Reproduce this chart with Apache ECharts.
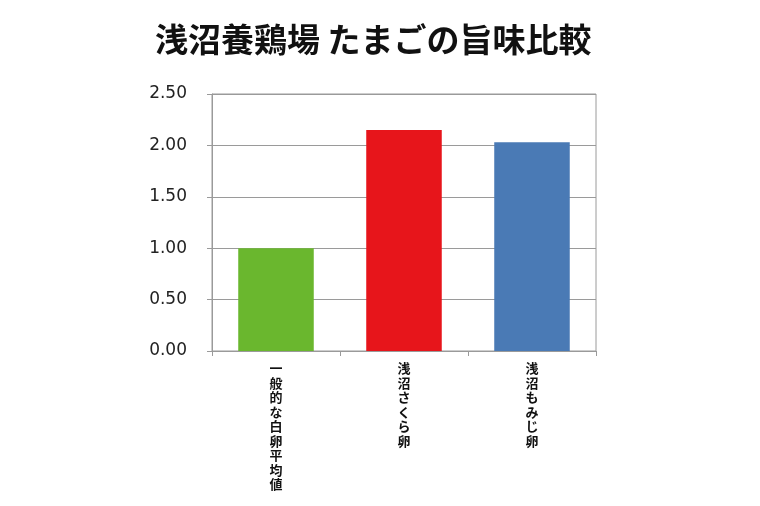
<!DOCTYPE html>
<html>
<head>
<meta charset="utf-8">
<script src="https://cdn.jsdelivr.net/npm/echarts@6/dist/echarts.min.js"></script>
<style>
html,body{margin:0;padding:0;background:#fff;}
#c{width:760px;height:506px;}
</style>
</head>
<body>
<div id="c"></div>
<script>
const titleText = '浅沼養鶏場 たまごの旨味比較';
const categories = ['一般的な白卵平均値', '浅沼さくら卵', '浅沼もみじ卵'];
const values = [1.00, 2.15, 2.03];
const barColors = ['#6AB72E', '#E7151B', '#4A7AB5'];
const yTicks = [0, 0.5, 1.0, 1.5, 2.0, 2.5];

const chart = echarts.init(document.getElementById('c'), null, {renderer: 'canvas'});
const axisGray = '#9a9a9a';
chart.setOption({
  animation: false,
  backgroundColor: '#fff',
  title: {
    text: titleText,
    left: 150,
    top: 18,
    textStyle: {
      fontFamily: '"Noto Sans CJK JP", sans-serif',
      fontWeight: 'bold',
      fontSize: 33,
      color: '#111'
    }
  },
  grid: {
    left: 212, right: 164, top: 94, bottom: 155,
    show: true, borderColor: axisGray, borderWidth: 1
  },
  xAxis: {
    type: 'category',
    data: categories,
    axisLine: {lineStyle: {color: axisGray}},
    axisTick: {show: true, length: 5, alignWithLabel: false, lineStyle: {color: axisGray}},
    axisLabel: {
      interval: 0,
      margin: 10,
      fontFamily: '"Noto Sans CJK JP", sans-serif',
      fontWeight: 'bold',
      fontSize: 13,
      lineHeight: 14.5,
      color: '#111',
      verticalAlign: 'top',
      formatter: v => v.split('').join('\n')
    }
  },
  yAxis: {
    type: 'value',
    min: yTicks[0],
    max: yTicks[yTicks.length - 1],
    interval: 0.5,
    axisLine: {show: true, lineStyle: {color: axisGray}},
    axisTick: {show: true, length: 5, lineStyle: {color: axisGray}},
    splitLine: {lineStyle: {color: axisGray}},
    axisLabel: {
      margin: 25,
      fontFamily: '"DejaVu Sans", Verdana, sans-serif',
      fontSize: 17,
      color: '#222',
      formatter: v => v.toFixed(2)
    }
  },
  series: [{
    type: 'bar',
    barWidth: '59%',
    data: values.map((v, i) => ({value: v, itemStyle: {color: barColors[i]}}))
  }]
});
</script>
</body>
</html>
